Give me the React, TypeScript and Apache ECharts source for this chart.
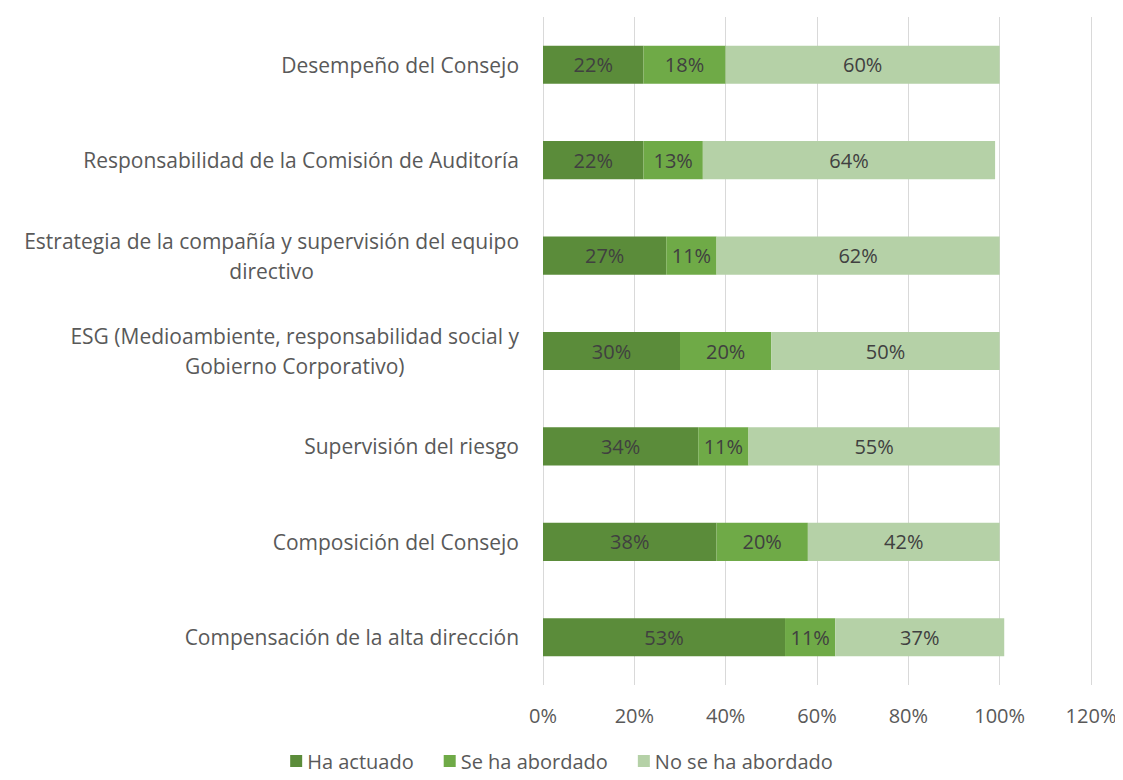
import React, { useEffect, useRef } from "react";
import * as echarts from "echarts";

const categories = [
  "Compensación de la alta dirección",
  "Composición del Consejo",
  "Supervisión del riesgo",
  "ESG (Medioambiente, responsabilidad social y\nGobierno Corporativo)",
  "Estrategia de la compañía y supervisión del equipo\ndirectivo",
  "Responsabilidad de la Comisión de Auditoría",
  "Desempeño del Consejo",
];
const haActuado = [53, 38, 34, 30, 27, 22, 22];
const seHaAbordado = [11, 20, 11, 20, 11, 13, 18];
const noSeHaAbordado = [37, 42, 55, 50, 62, 64, 60];
const seriesNames = ["Ha actuado", "Se ha abordado", "No se ha abordado"];
const xTicks = [0, 20, 40, 60, 80, 100, 120];

const colors = ["#5b8c3a", "#6faa47", "#b5d1a7"];
const FONT = "'Open Sans', 'Noto Sans', sans-serif";

export default function App() {
  const ref = useRef<HTMLDivElement>(null);
  useEffect(() => {
    const chart = echarts.init(ref.current!, null, { renderer: "svg" });
    const mk = (name: string, data: number[], i: number) => ({
      name,
      type: "bar",
      stack: "total",
      data,
      barWidth: "40%",
      itemStyle: { color: colors[i] },
      label: {
        show: true,
        position: "inside",
        formatter: "{c}%",
        color: "#404040",
        fontSize: 20,
        fontFamily: FONT,
      },
    });
    chart.setOption({
      animation: false,
      color: colors,
      grid: { left: 543, right: 32, top: 17, bottom: 95, containLabel: false },
      legend: {
        top: 746,
        left: "center",
        itemWidth: 12,
        itemHeight: 12,
        itemGap: 30,
        itemTextGap: 5,
        icon: "rect",
        textStyle: { color: "#595959", fontSize: 20, fontFamily: FONT },
        data: seriesNames,
      },
      xAxis: {
        type: "value",
        min: xTicks[0],
        max: xTicks[xTicks.length - 1],
        interval: 20,
        axisLine: { show: false },
        axisTick: { show: false },
        splitLine: { show: true, lineStyle: { color: "#d9d9d9", width: 1 } },
        axisLabel: {
          formatter: "{value}%",
          color: "#595959",
          fontSize: 20,
          fontFamily: FONT,
          margin: 20,
        },
      },
      yAxis: {
        type: "category",
        data: categories,
        axisLine: { show: false },
        axisTick: { show: false },
        axisLabel: {
          color: "#595959",
          fontSize: 21,
          fontFamily: FONT,
          margin: 24,
          lineHeight: 30,
          formatter: (v: string) =>
            v
              .split("\n")
              .map((l) => `{c|${l}}`)
              .join("\n"),
          rich: {
            c: {
              align: "center",
              color: "#595959",
              fontSize: 21,
              fontFamily: FONT,
              lineHeight: 30,
            },
          },
        },
      },
      series: [
        mk(seriesNames[0], haActuado, 0),
        mk(seriesNames[1], seHaAbordado, 1),
        mk(seriesNames[2], noSeHaAbordado, 2),
      ],
    });
    return () => chart.dispose();
  }, []);
  return <div ref={ref} style={{ width: 1123, height: 780, margin: -8 }} />;
}
